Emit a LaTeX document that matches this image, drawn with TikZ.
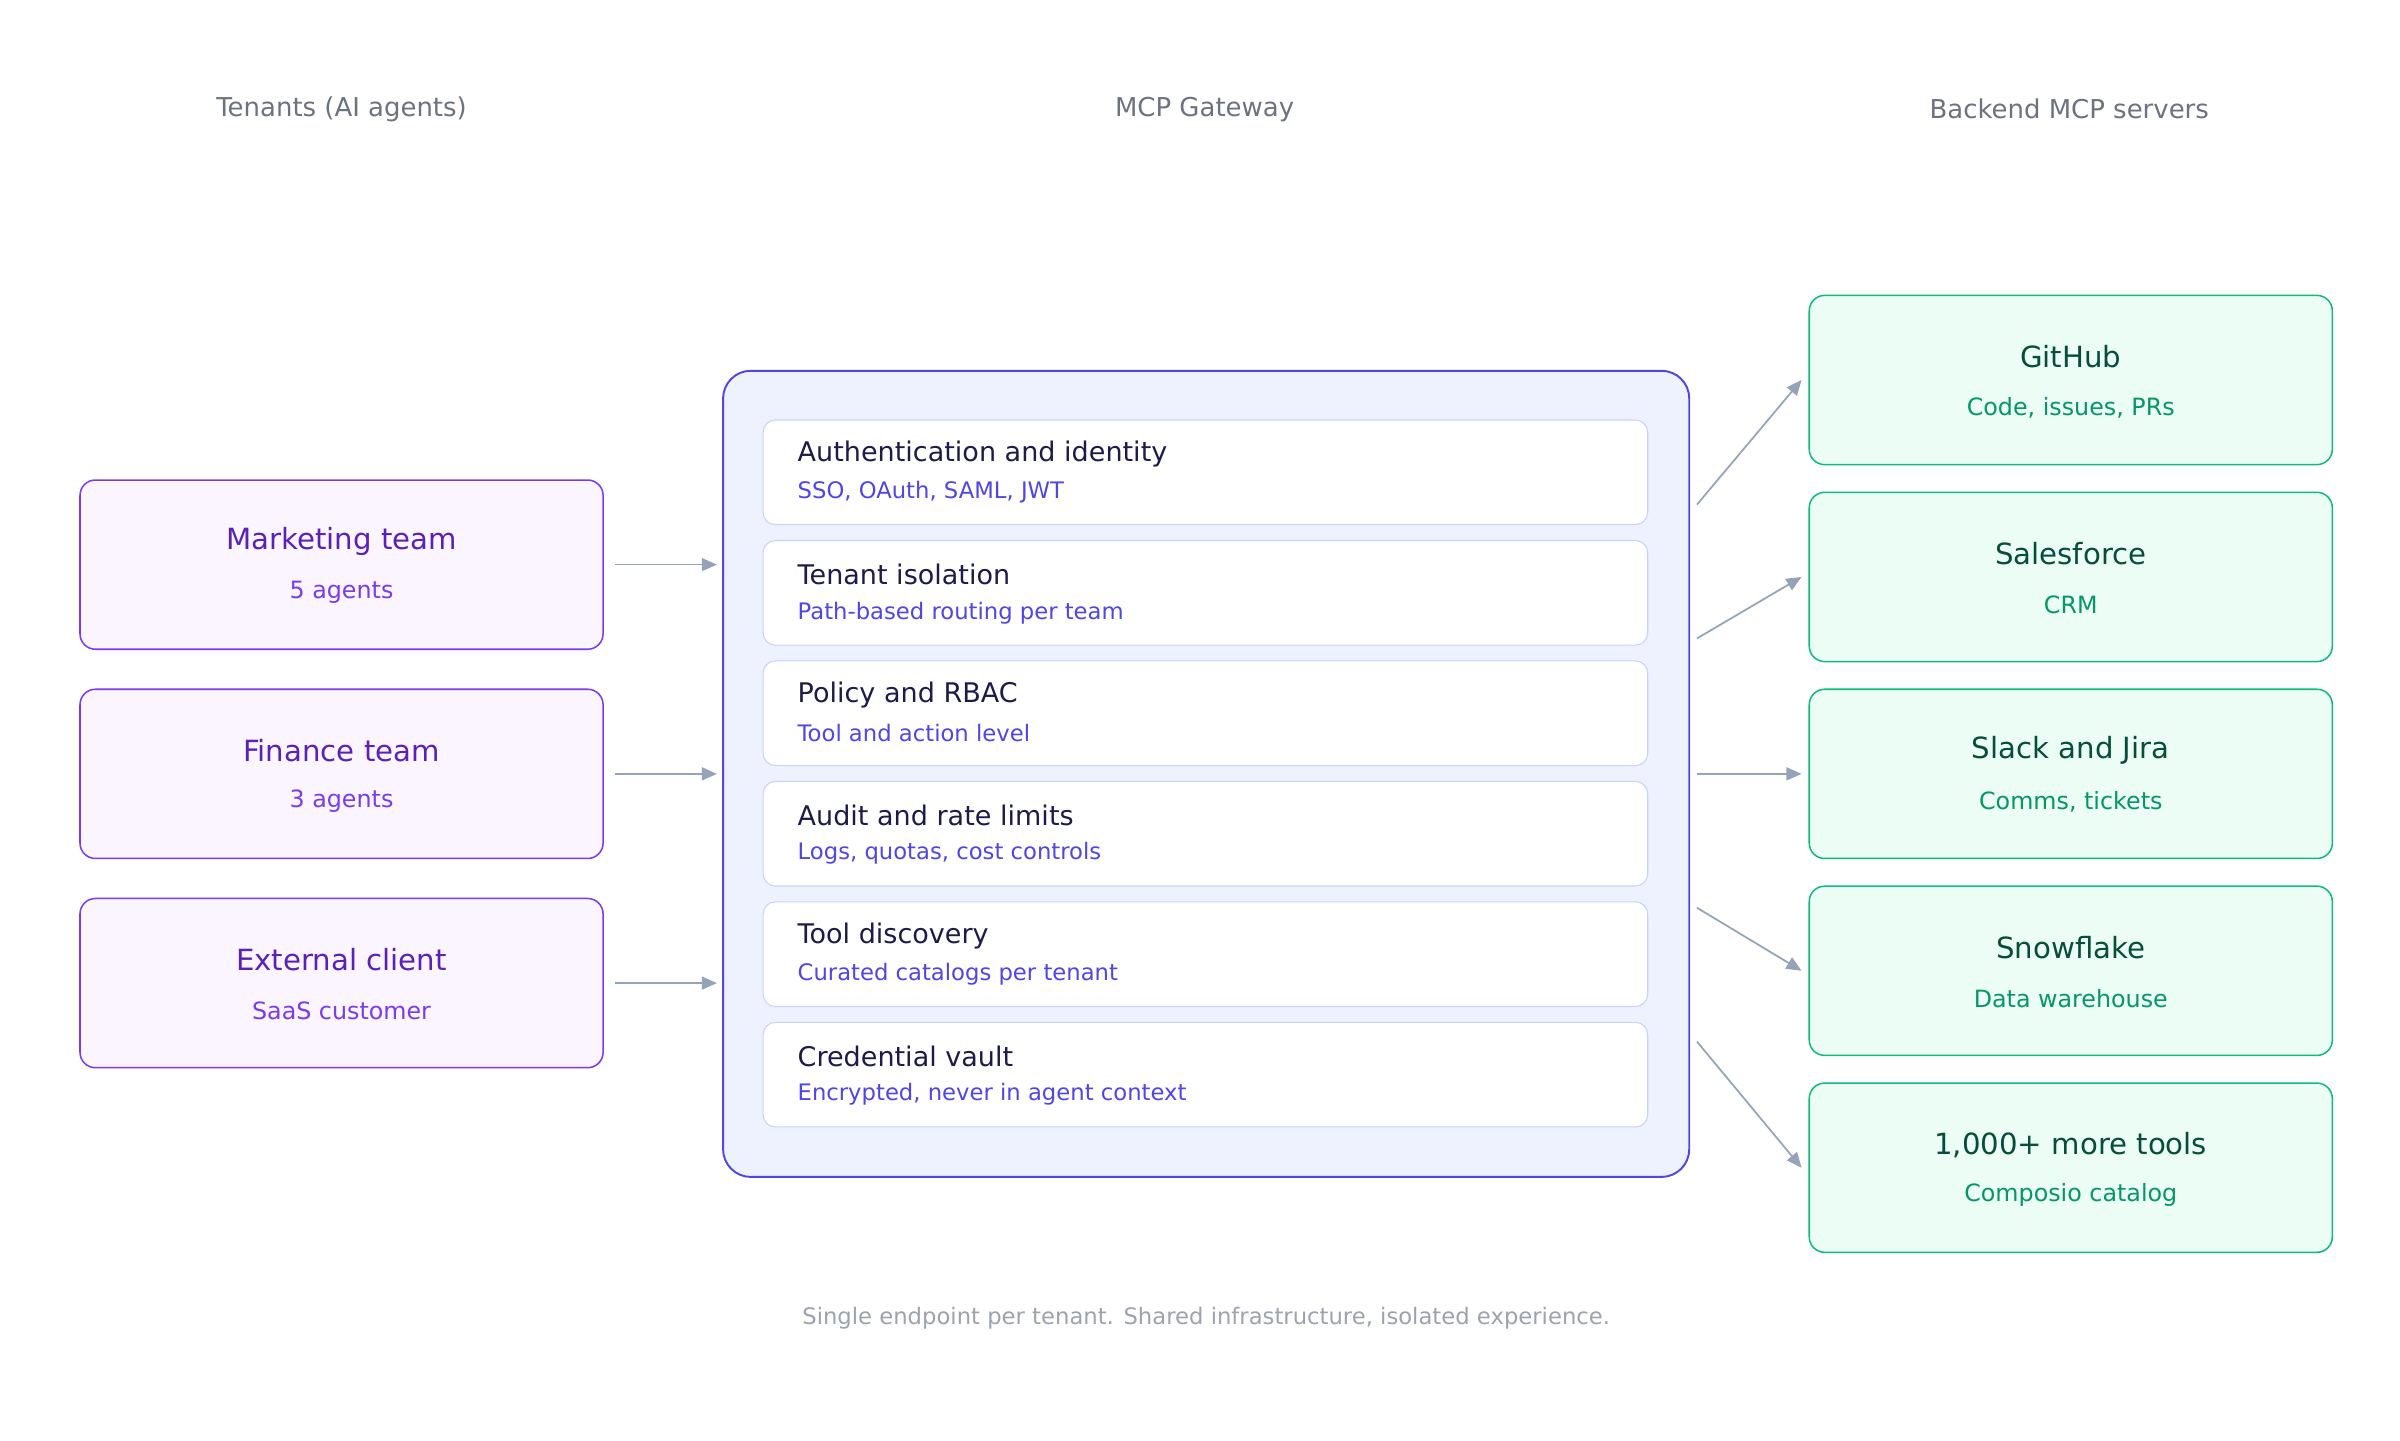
\documentclass[tikz,border=0pt]{standalone}
\usepackage{fontspec}
\setmainfont{DejaVu Sans}
\usetikzlibrary{arrows.meta}
\definecolor{pst}{HTML}{7C3AED}\definecolor{pfi}{HTML}{FAF5FF}\definecolor{pti}{HTML}{5B21B6}
\definecolor{gst}{HTML}{10B981}\definecolor{gfi}{HTML}{ECFDF5}\definecolor{gti}{HTML}{064E3B}\definecolor{gsu}{HTML}{059669}
\definecolor{ist}{HTML}{4F46E5}\definecolor{ifi}{HTML}{EEF2FF}\definecolor{ibo}{HTML}{C7D2FE}\definecolor{iti}{HTML}{1E1B4B}
\definecolor{hd}{HTML}{6B7280}\definecolor{ft}{HTML}{9CA3AF}\definecolor{ar}{HTML}{94A3B8}
\begin{document}
\begin{tikzpicture}[x=0.05cm,y=-0.05cm,
 pbox/.style={draw=pst,fill=pfi,line width=1.4pt,rounded corners=10*0.05cm,minimum width=340*0.05cm,minimum height=110*0.05cm},
 gbox/.style={draw=gst,fill=gfi,line width=1.4pt,rounded corners=10*0.05cm,minimum width=340*0.05cm,minimum height=110*0.05cm},
 ibox/.style={draw=ibo,fill=white,line width=1pt,rounded corners=8*0.05cm,minimum width=575*0.05cm,minimum height=68*0.05cm},
 hdr/.style={text=hd,font=\fontsize{24}{28}\selectfont},
 ttl/.style={font=\fontsize{27}{32}\selectfont},
 sub/.style={font=\fontsize{22}{26}\selectfont},
 it/.style={text=iti,font=\fontsize{25}{30}\selectfont,anchor=west},
 is/.style={text=ist,font=\fontsize{21}{25}\selectfont,anchor=west},
 arr/.style={draw=ar,line width=1.6pt,-{Triangle[length=14pt,width=12pt]}}]
\path[use as bounding box] (0,0) rectangle (1560,936);
\node[hdr] (h1) at (222,71) {Tenants (AI agents)};
\node[hdr] (h2) at (783,71) {MCP Gateway};
\node[hdr] (h3) at (1345,71) {Backend MCP servers};
\node[text=ft,font=\fontsize{21}{25}\selectfont] (foot) at (784,857) {Single endpoint per tenant. Shared infrastructure, isolated experience.};
% left
\foreach \n/\y/\t/\s in {l1/367/Marketing team/5 agents,l2/503/Finance team/3 agents,l3/639/External client/SaaS customer}{
 \node[pbox] (\n) at (222,\y) {};
 \node[ttl,text=pti] at (222,\y-15) {\t};
 \node[sub,text=pst] at (222,\y+18) {\s};
 \coordinate (\n a) at (400,\y); \coordinate (\n b) at (466,\y);
 \draw[arr] (\n a) -- (\n b);
}
% gateway
\draw[draw=ist,fill=ifi,line width=1.8pt,rounded corners=18*0.05cm] (470,241) rectangle (1098,765);
\foreach \n/\y/\t/\s in {g1/307/Authentication and identity/{SSO, OAuth, SAML, JWT},g2/385.3/Tenant isolation/Path-based routing per team,g3/463.6/Policy and RBAC/Tool and action level,g4/541.9/Audit and rate limits/{Logs, quotas, cost controls},g5/620.2/Tool discovery/Curated catalogs per tenant,g6/698.5/Credential vault/{Encrypted, never in agent context}}{
 \node[ibox] (\n) at (783.5,\y) {};
 \node[it] at (516,\y-12) {\t};
 \node[is] at (516,\y+13) {\s};
}
% right
\foreach \n/\y/\t/\s/\sy in {r1/247/GitHub/{Code, issues, PRs}/328,r2/375/Salesforce/CRM/415,r3/503/Slack and Jira/{Comms, tickets}/503,r4/631/Snowflake/Data warehouse/590,r5/759/{1,000+ more tools}/Composio catalog/677}{
 \node[gbox] (\n) at (1346,\y) {};
 \node[ttl,text=gti] at (1346,\y-15) {\t};
 \node[sub,text=gsu] at (1346,\y+18) {\s};
 \coordinate (\n a) at (1103,\sy); \coordinate (\n b) at (1171,\y);
 \draw[arr] (\n a) -- (\n b);
}
\end{tikzpicture}
\end{document}
